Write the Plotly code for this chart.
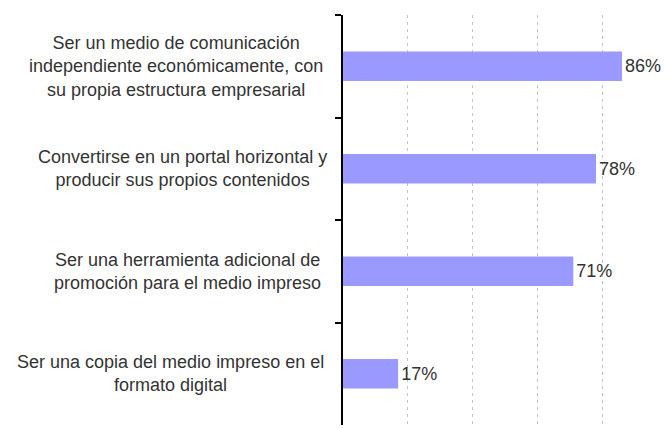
import plotly.graph_objects as go

categories = [
    "Ser un medio de comunicación<br>independiente económicamente, con<br>su propia estructura empresarial",
    "Convertirse en un portal horizontal y<br>producir sus propios contenidos",
    "Ser una herramienta adicional de<br>promoción para el medio impreso",
    "Ser una copia del medio impreso en el<br>formato digital",
]
values = [86, 78, 71, 17]
keys = ["c1", "c2", "c3", "c4"]

font_family = "Liberation Sans, Arial, sans-serif"

# horizontal centre of each label block, in paper units (left of the axis)
label_x = [-0.511, -0.492, -0.477, -0.529]

fig = go.Figure()
fig.add_trace(
    go.Bar(
        orientation="h",
        x=values,
        y=keys,
        marker=dict(color="#9999ff", line=dict(width=0)),
        width=0.29,
        text=[str(v) + "%" for v in values],
        textposition="outside",
        textfont=dict(family=font_family, size=18, color="#333333"),
        cliponaxis=False,
    )
)

# category labels as centred annotations (tick labels can't be centre-aligned)
for k, label, lx in zip(keys, categories, label_x):
    fig.add_annotation(
        x=lx, xref="paper", y=k, yref="y",
        text=label, showarrow=False, xanchor="center", yanchor="middle",
        align="center", font=dict(family=font_family, size=18, color="#333333"),
    )

fig.update_xaxes(
    range=[0, 100.5], tickvals=[20, 40, 60, 80, 100], showticklabels=False,
    showgrid=True, gridcolor="#c4c4c4", griddash="3px,4px", gridwidth=1.2,
    zeroline=False, showline=False,
)
fig.update_yaxes(
    autorange="reversed", showticklabels=False, showgrid=False,
    showline=True, linecolor="black", linewidth=1.5,
    ticks="outside", ticklen=6, tickcolor="black", tickwidth=1.5,
    tickson="boundaries",
)
# page body adds an 8px offset, margins compensate for it
fig.update_layout(
    width=670, height=428,
    margin=dict(l=335, r=9, t=7, b=11),
    plot_bgcolor="white", paper_bgcolor="white",
    showlegend=False,
    font=dict(family=font_family),
)

fig.write_html("out.html")
